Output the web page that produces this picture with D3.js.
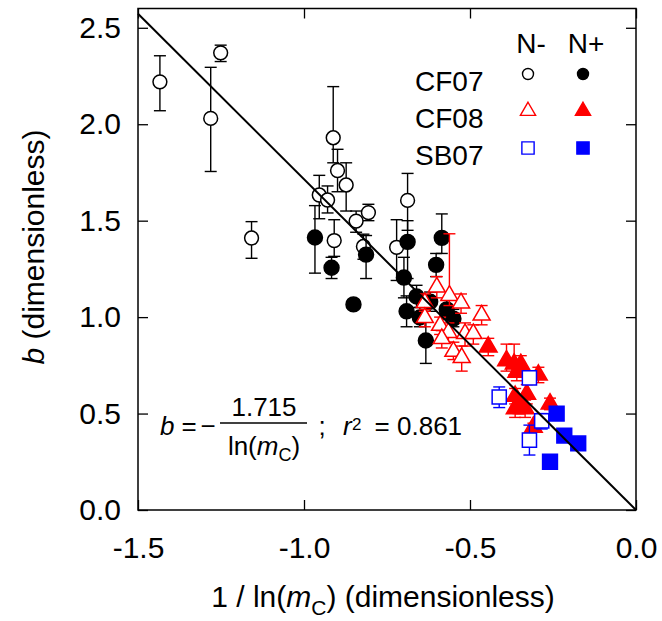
<!DOCTYPE html>
<html>
<head>
<meta charset="utf-8">
<script src="https://cdn.jsdelivr.net/npm/d3@7/dist/d3.min.js"></script>
<style>
  html, body { margin: 0; padding: 0; background: #fff; }
  svg { display: block; font-family: "Liberation Sans", Arial, sans-serif; }
</style>
</head>
<body>
<svg id="chart" width="662" height="621"></svg>
<script>
// ---- data: [x = 1/ln(mC), b, error low, error high] ----
const cf07Neg = [
  [-1.434, 2.22, 2.07, 2.355],
  [-1.251, 2.37, 2.325, 2.41],
  [-1.281, 2.03, 1.755, 2.295],
  [-1.158, 1.41, 1.305, 1.495],
  [-0.912, 1.93, 1.80, 2.195],
  [-0.899, 1.76, 1.65, 1.87],
  [-0.873, 1.685, 1.55, 1.80],
  [-0.954, 1.633, 1.51, 1.735],
  [-0.929, 1.607, 1.54, 1.68],
  [-0.806, 1.542, 1.50, 1.585],
  [-0.843, 1.498, 1.44, 1.55],
  [-0.909, 1.397, 1.315, 1.505],
  [-0.821, 1.366, 1.30, 1.43],
  [-0.721, 1.362, 1.19, 1.505],
  [-0.688, 1.605, 1.45, 1.745]
];
const cf07Pos = [
  [-0.967, 1.413, 1.228, 1.578],
  [-0.917, 1.256, 1.20, 1.31],
  [-0.813, 1.324, 1.20, 1.423],
  [-0.688, 1.39, 1.20, 1.50],
  [-0.585, 1.411, 1.33, 1.535],
  [-0.602, 1.271, 1.21, 1.33],
  [-0.699, 1.205, 1.10, 1.31],
  [-0.851, 1.066, 1.045, 1.09],
  [-0.661, 1.107, 1.05, 1.165],
  [-0.691, 1.03, 0.95, 1.11],
  [-0.651, 0.998, 0.95, 1.05],
  [-0.620, 1.08, 1.03, 1.13],
  [-0.570, 1.04, 0.99, 1.09],
  [-0.550, 0.992, 0.95, 1.04],
  [-0.633, 0.879, 0.76, 0.983]
];
const cf08Neg = [
  [-0.600, 1.155, 1.10, 1.21],
  [-0.562, 1.112, 1.06, 1.432],
  [-0.527, 1.073, 1.02, 1.12],
  [-0.465, 1.01, 0.96, 1.06],
  [-0.636, 1.075, 1.03, 1.12],
  [-0.636, 0.997, 0.95, 1.04],
  [-0.590, 0.957, 0.91, 1.00],
  [-0.565, 0.92, 0.87, 0.97],
  [-0.515, 0.914, 0.85, 0.97],
  [-0.490, 0.914, 0.86, 0.96],
  [-0.585, 0.888, 0.84, 0.93],
  [-0.550, 0.822, 0.78, 0.87],
  [-0.525, 0.79, 0.72, 0.85]
];
const cf08Pos = [
  [-0.445, 0.845, 0.80, 0.89],
  [-0.390, 0.774, 0.72, 0.86],
  [-0.367, 0.757, 0.70, 0.86],
  [-0.347, 0.755, 0.70, 0.80],
  [-0.294, 0.70, 0.66, 0.74],
  [-0.359, 0.715, 0.67, 0.76],
  [-0.329, 0.60, 0.55, 0.65],
  [-0.364, 0.59, 0.55, 0.63],
  [-0.354, 0.55, 0.50, 0.60],
  [-0.334, 0.526, 0.48, 0.57],
  [-0.364, 0.526, 0.48, 0.57],
  [-0.259, 0.55, 0.52, 0.58],
  [-0.309, 0.43, 0.41, 0.45]
];
const sb07Neg = [
  [-0.412, 0.586, 0.531, 0.638],
  [-0.321, 0.685, 0.66, 0.71],
  [-0.284, 0.462, 0.42, 0.50],
  [-0.321, 0.362, 0.285, 0.44]
];
const sb07Pos = [
  [-0.239, 0.50, 0.50, 0.50],
  [-0.216, 0.386, 0.386, 0.386],
  [-0.174, 0.345, 0.345, 0.345],
  [-0.259, 0.25, 0.25, 0.25]
];
const fitSlope = -1.715;
const xTicks = [-1.5, -1.0, -0.5, 0.0];
const xTickLabels = ["-1.5", "-1.0", "-0.5", "0.0"];
const yTicks = [0.0, 0.5, 1.0, 1.5, 2.0, 2.5];
const yTickLabels = ["0.0", "0.5", "1.0", "1.5", "2.0", "2.5"];
const legendRows = ["CF07", "CF08", "SB07"];
const legendCols = ["N-", "N+"];

// ---- layout ----
const svg = d3.select("#chart");
const L = 138, R = 636, T = 8.5, B = 510;
const x = d3.scaleLinear().domain([-1.5, 0]).range([L, R]);
const y = d3.scaleLinear().domain([0, 2.6]).range([B, T]);
const FONT = 30;

// axes
const gx = svg.append("g").attr("transform", `translate(0,${B})`)
  .call(d3.axisBottom(x).tickValues(xTicks).tickSize(-10).tickPadding(27)
    .tickFormat((d, i) => xTickLabels[i]));
const gy = svg.append("g").attr("transform", `translate(${L},0)`)
  .call(d3.axisLeft(y).tickValues(yTicks).tickSize(-10).tickPadding(17)
    .tickFormat((d, i) => yTickLabels[i]));
const gt = svg.append("g").attr("transform", `translate(0,${T})`)
  .call(d3.axisTop(x).tickValues(xTicks).tickSize(-10).tickFormat(""));
const gr = svg.append("g").attr("transform", `translate(${R},0)`)
  .call(d3.axisRight(y).tickValues(yTicks).tickSize(-10).tickFormat(""));
[gx, gy, gt, gr].forEach(g => {
  g.select(".domain").remove();
  g.selectAll(".tick line").attr("stroke", "#000").attr("stroke-width", 1.3);
  g.selectAll("text").attr("fill", "#000").style("font-size", FONT + "px")
    .style("font-family", '"Liberation Sans", Arial, sans-serif');
});
svg.append("rect").attr("x", L).attr("y", T).attr("width", R - L).attr("height", B - T)
  .attr("fill", "none").attr("stroke", "#000").attr("stroke-width", 1.5);

// axis titles
const yt = svg.append("text").attr("transform", `translate(44,247) rotate(-90)`)
  .attr("text-anchor", "middle").style("font-size", FONT + "px");
yt.append("tspan").attr("font-style", "italic").text("b");
yt.append("tspan").text(" (dimensionless)");

const xt = svg.append("text").attr("x", 383).attr("y", 607)
  .attr("text-anchor", "middle").style("font-size", FONT + "px");
xt.append("tspan").text("1 / ln(");
xt.append("tspan").attr("font-style", "italic").text("m");
xt.append("tspan").attr("dy", 8).style("font-size", "21px").text("C");
xt.append("tspan").attr("dy", -8).text(") (dimensionless)");

// series
const series = [
  { data: cf07Neg, sym: d3.symbolCircle, size: 150, color: "#000", filled: false },
  { data: cf07Pos, sym: d3.symbolCircle, size: 175, color: "#000", filled: true },
  { data: cf08Neg, sym: d3.symbolTriangle, size: 125, color: "#ff0000", filled: false },
  { data: cf08Pos, sym: d3.symbolTriangle, size: 135, color: "#ff0000", filled: true },
  { data: sb07Neg, sym: d3.symbolSquare, size: 200, color: "#0000ff", filled: false },
  { data: sb07Pos, sym: d3.symbolSquare, size: 220, color: "#0000ff", filled: true }
];
const capW = 6;
series.forEach(s => {
  const g = svg.append("g");
  // error bars
  const eb = g.selectAll("g.eb").data(s.data.filter(d => d[3] - d[2] > 0.001)).join("g")
    .attr("stroke", s.color).attr("stroke-width", 1.4).attr("fill", "none");
  eb.append("line").attr("x1", d => x(d[0])).attr("x2", d => x(d[0]))
    .attr("y1", d => y(d[2])).attr("y2", d => y(d[3]));
  eb.append("line").attr("x1", d => x(d[0]) - capW).attr("x2", d => x(d[0]) + capW)
    .attr("y1", d => y(d[2])).attr("y2", d => y(d[2]));
  eb.append("line").attr("x1", d => x(d[0]) - capW).attr("x2", d => x(d[0]) + capW)
    .attr("y1", d => y(d[3])).attr("y2", d => y(d[3]));
  // markers
  g.selectAll("path.m").data(s.data).join("path")
    .attr("transform", d => `translate(${x(d[0])},${y(d[1])})`)
    .attr("d", d3.symbol().type(s.sym).size(s.size))
    .attr("fill", s.filled ? s.color : "#fff")
    .attr("stroke", s.color).attr("stroke-width", 1.5);
});

// fit line b = -1.715 * x
svg.append("line")
  .attr("x1", x(-1.5)).attr("y1", y(fitSlope * -1.5))
  .attr("x2", x(0)).attr("y2", y(0))
  .attr("stroke", "#000").attr("stroke-width", 2);

// legend
const lg = svg.append("g").style("font-size", "28px");
const colX = [528, 583];
const rowY = [74, 111, 148];
legendCols.forEach((c, i) => lg.append("text").attr("x", colX[i] + 3).attr("y", 53)
  .attr("text-anchor", "middle").text(c));
legendRows.forEach((r, i) => lg.append("text").attr("x", 415).attr("y", rowY[i] + 17).text(r));
const legSym = [
  [d3.symbolCircle, 95, "#000"],
  [d3.symbolTriangle, 100, "#ff0000"],
  [d3.symbolSquare, 150, "#0000ff"]
];
legSym.forEach((ls, i) => {
  [false, true].forEach((filled, j) => {
    lg.append("path").attr("transform", `translate(${colX[j]},${rowY[i]})`)
      .attr("d", d3.symbol().type(ls[0]).size(ls[1]))
      .attr("fill", filled ? ls[2] : "#fff").attr("stroke", ls[2]).attr("stroke-width", 1.4);
  });
});

// equation annotation
const eq = svg.append("g").style("font-size", "26px");
eq.append("text").attr("x", 160).attr("y", 435).attr("font-style", "italic").text("b");
eq.append("text").attr("x", 189).attr("y", 435).attr("text-anchor", "middle").text("=");
eq.append("text").attr("x", 208).attr("y", 435).attr("text-anchor", "middle").text("\u2212");
eq.append("line").attr("x1", 220).attr("x2", 307).attr("y1", 423).attr("y2", 423)
  .attr("stroke", "#000").attr("stroke-width", 1.3);
eq.append("text").attr("x", 264).attr("y", 416).attr("text-anchor", "middle").text("1.715");
const den = eq.append("text").attr("x", 264).attr("y", 455).attr("text-anchor", "middle");
den.append("tspan").text("ln(");
den.append("tspan").attr("font-style", "italic").text("m");
den.append("tspan").attr("dy", 6).style("font-size", "18px").text("C");
den.append("tspan").attr("dy", -6).text(")");
eq.append("text").attr("x", 322).attr("y", 435).attr("text-anchor", "middle").text(";");
eq.append("text").attr("x", 343).attr("y", 435).attr("font-style", "italic").text("r");
eq.append("text").attr("x", 352).attr("y", 430).style("font-size", "17px").text("2");
eq.append("text").attr("x", 382).attr("y", 435).attr("text-anchor", "middle").text("=");
eq.append("text").attr("x", 397).attr("y", 435).text("0.861");
</script>
</body>
</html>
